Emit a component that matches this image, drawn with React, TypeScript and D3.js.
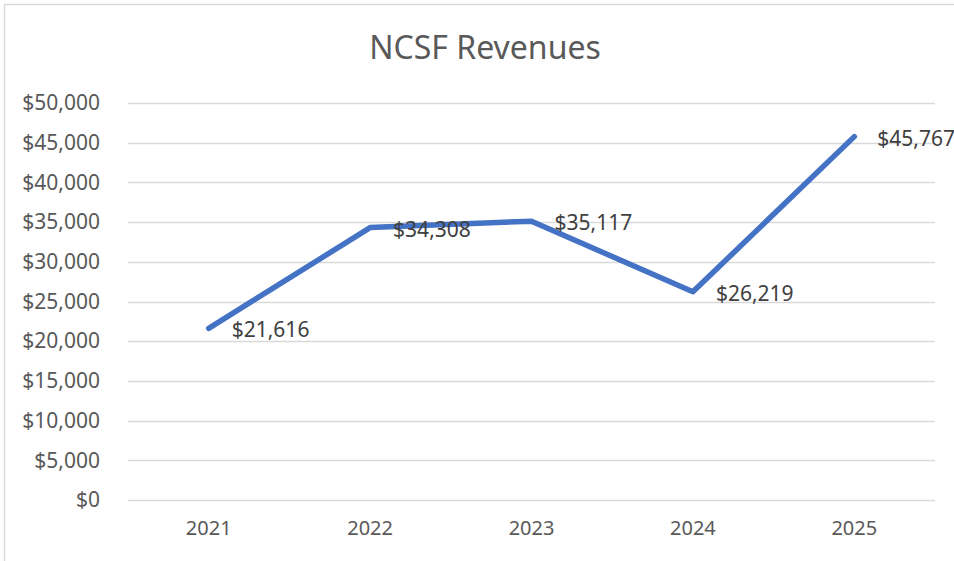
import React, { useEffect, useRef } from "react";
import * as d3 from "d3";

const years = ["2021", "2022", "2023", "2024", "2025"];
const revenues = [21616, 34308, 35117, 26219, 45767];
const yTicks = [0, 5000, 10000, 15000, 20000, 25000, 30000, 35000, 40000, 45000, 50000];
const chartTitle = "NCSF Revenues";

const width = 954;
const height = 561;
const margin = { top: 103, right: 19, bottom: 61, left: 128 };
const font = "'Noto Sans', 'Open Sans', sans-serif";

export default function App() {
  const ref = useRef<SVGSVGElement>(null);

  useEffect(() => {
    const svg = d3.select(ref.current);
    svg.selectAll("*").remove();

    const x = d3.scaleBand<string>()
      .domain(years)
      .range([margin.left, width - margin.right]);

    const y = d3.scaleLinear()
      .domain([0, 50000])
      .range([height - margin.bottom, margin.top]);

    const fmt = (v: number) => "$" + d3.format(",")(v);

    // chart frame
    svg.append("rect")
      .attr("x", 4.5)
      .attr("y", 4.5)
      .attr("width", width + 20)
      .attr("height", height + 20)
      .attr("fill", "white")
      .attr("stroke", "#d9d9d9")
      .attr("stroke-width", 1.5);

    svg.append("text")
      .attr("x", 485)
      .attr("y", 59)
      .attr("text-anchor", "middle")
      .style("font-family", font)
      .style("font-size", "32px")
      .attr("fill", "#595959")
      .text(chartTitle);

    // gridlines
    svg.append("g")
      .selectAll("line")
      .data(yTicks)
      .join("line")
      .attr("x1", margin.left)
      .attr("x2", width - margin.right)
      .attr("y1", d => Math.round(y(d)) + 0.5)
      .attr("y2", d => Math.round(y(d)) + 0.5)
      .attr("stroke", "#d9d9d9")
      .attr("stroke-width", 1.5);

    // y axis labels
    const yAxis = d3.axisLeft(y)
      .tickValues(yTicks)
      .tickFormat(d => fmt(+d))
      .tickSize(0)
      .tickPadding(28);

    const gy = svg.append("g")
      .attr("transform", "translate(" + margin.left + ",0)")
      .call(yAxis);
    gy.select(".domain").remove();
    gy.selectAll("text")
      .style("font-family", font)
      .style("font-size", "21px")
      .attr("fill", "#595959");

    // x axis labels
    const xAxis = d3.axisBottom(x).tickSize(0).tickPadding(21);
    const gx = svg.append("g")
      .attr("transform", "translate(0," + (height - margin.bottom) + ")")
      .call(xAxis);
    gx.select(".domain").remove();
    gx.selectAll("text")
      .style("font-family", font)
      .style("font-size", "20px")
      .attr("fill", "#595959");

    const pts = years.map((yr, i) => ({ yr, v: revenues[i] }));
    const line = d3.line<{ yr: string; v: number }>()
      .x(d => (x(d.yr) as number) + x.bandwidth() / 2)
      .y(d => y(d.v));

    svg.append("path")
      .attr("d", line(pts))
      .attr("fill", "none")
      .attr("stroke", "#4472c4")
      .attr("stroke-width", 5.5)
      .attr("stroke-linecap", "round")
      .attr("stroke-linejoin", "round");

    svg.append("g")
      .selectAll("text")
      .data(pts)
      .join("text")
      .attr("x", d => (x(d.yr) as number) + x.bandwidth() / 2 + 23)
      .attr("y", d => y(d.v) + 9)
      .style("font-family", font)
      .style("font-size", "21px")
      .attr("fill", "#404040")
      .text(d => fmt(d.v));
  }, []);

  return (
    <svg
      ref={ref}
      width={width}
      height={height}
      style={{ position: "absolute", left: 0, top: 0, display: "block" }}
    />
  );
}
